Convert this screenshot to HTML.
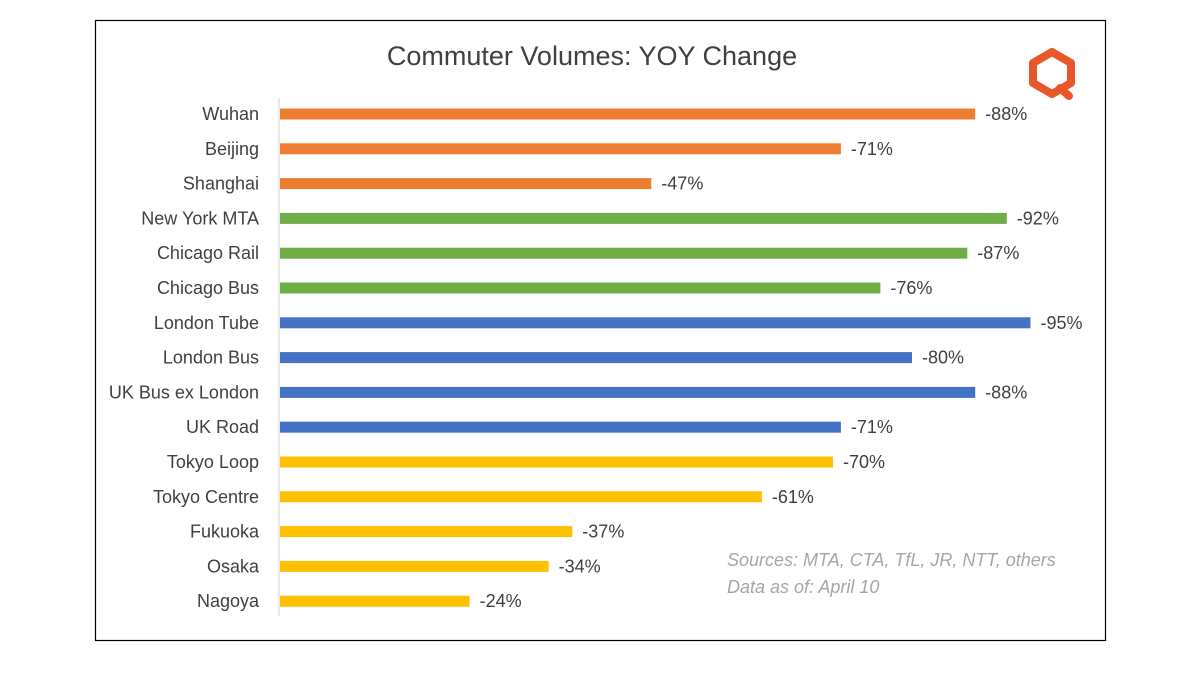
<!DOCTYPE html>
<html><head><meta charset="utf-8"><style>
body{margin:0;width:1200px;height:669px;background:#fff;font-family:"Liberation Sans",sans-serif;overflow:hidden}
</style></head><body>
<svg width="1200" height="669">
<rect x="95.5" y="20.5" width="1010" height="620" fill="none" stroke="#000" stroke-width="1.2"/>
<text x="592" y="65" text-anchor="middle" font-size="27" fill="#404040">Commuter Volumes: YOY Change</text>
<g>
<polygon points="1052,52 1071,63 1071,83 1052,94 1033,83 1033,63" fill="none" stroke="#e8562a" stroke-width="8" stroke-linejoin="round"/>
<line x1="1060" y1="88" x2="1069" y2="96" stroke="#e8562a" stroke-width="8" stroke-linecap="round"/>
</g>
<line x1="279" y1="98" x2="279" y2="616" stroke="#d0d0d0" stroke-width="1"/>
<g id="bars"></g>
<text x="727" y="566" font-size="18" font-style="italic" fill="#a6a6a6">Sources: MTA, CTA, TfL, JR, NTT, others</text>
<text x="727" y="593" font-size="18" font-style="italic" fill="#a6a6a6">Data as of: April 10</text>
</svg>
<script>
const categories=["Wuhan","Beijing","Shanghai","New York MTA","Chicago Rail","Chicago Bus","London Tube","London Bus","UK Bus ex London","UK Road","Tokyo Loop","Tokyo Centre","Fukuoka","Osaka","Nagoya"];
const values=[-88,-71,-47,-92,-87,-76,-95,-80,-88,-71,-70,-61,-37,-34,-24];
const groups=["china","china","china","us","us","us","uk","uk","uk","uk","japan","japan","japan","japan","japan"];
const groupColors={china:"#ed7d31",us:"#70ad47",uk:"#4472c4",japan:"#ffc000"};
const x0=280,scale=7.9,y0=114,step=34.8,bh=11;
const xs=v=>x0+Math.abs(v)*scale;
const ys=i=>y0+i*step;
const g=document.getElementById('bars');
const NS="http://www.w3.org/2000/svg";
categories.forEach((c,i)=>{
  const y=ys(i);
  const r=document.createElementNS(NS,'rect');
  r.setAttribute('x',x0);r.setAttribute('y',y-bh/2);
  r.setAttribute('width',xs(values[i])-x0);r.setAttribute('height',bh);
  r.setAttribute('fill',groupColors[groups[i]]);
  
  
  g.appendChild(r);
  const l=document.createElementNS(NS,'text');
  l.setAttribute('x',259);l.setAttribute('y',y+6);l.setAttribute('text-anchor','end');
  l.setAttribute('font-size','18');l.setAttribute('fill','#404040');l.textContent=c;
  
  
  g.appendChild(l);
  const t=document.createElementNS(NS,'text');
  t.setAttribute('x',xs(values[i])+10);t.setAttribute('y',y+6);
  t.setAttribute('font-size','18');t.setAttribute('fill','#404040');t.textContent=values[i]+'%';
  
  
  g.appendChild(t);
});
</script>
</body></html>
